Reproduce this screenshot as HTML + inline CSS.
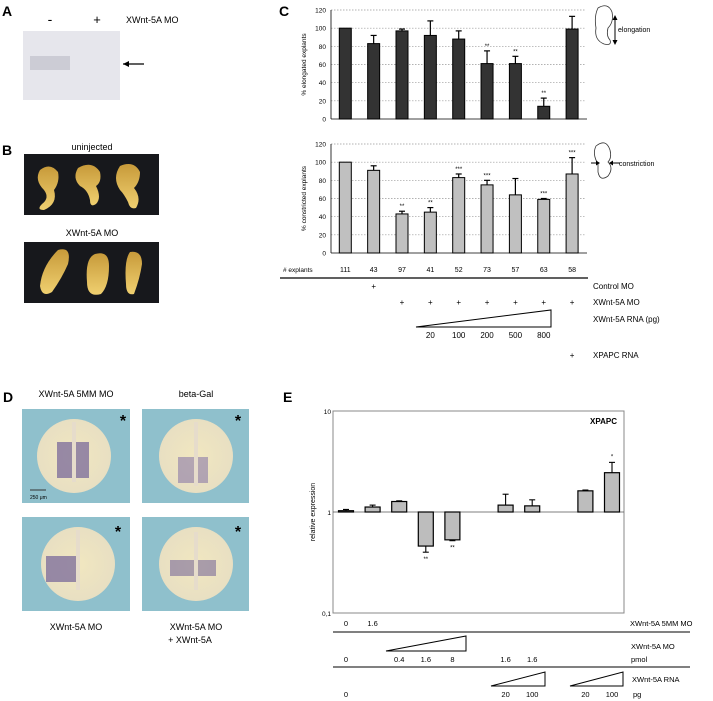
<!DOCTYPE html>
<html><head><meta charset="utf-8"><style>
body{margin:0;background:#fff;width:713px;height:701px;overflow:hidden;font-family:"Liberation Sans",Arial,sans-serif}
svg{display:block}
</style></head><body>
<svg width="713" height="701" viewBox="0 0 713 701">
<defs>
<radialGradient id="emb" cx="50%" cy="50%" r="50%"><stop offset="0" stop-color="#f1e7c0"/><stop offset="1" stop-color="#e8dfc2"/></radialGradient>
<linearGradient id="yolk" x1="0" y1="0" x2="0" y2="1"><stop offset="0" stop-color="#c79a3a"/><stop offset="1" stop-color="#f0d070"/></linearGradient>
</defs>
<g font-size="14" font-weight="bold">
<text x="2" y="16">A</text><text x="2" y="155">B</text><text x="279" y="16">C</text><text x="3" y="402">D</text><text x="283" y="402">E</text>
</g>
<!-- Panel A -->
<g>
<text x="50" y="24" font-size="14" text-anchor="middle">-</text>
<text x="97" y="24" font-size="13" text-anchor="middle">+</text>
<text x="126" y="23" font-size="9">XWnt-5A MO</text>
<rect x="23" y="31" width="97" height="69" fill="#e6e6ec"/>
<rect x="30" y="56" width="40" height="14" fill="#c6c6d0" opacity="0.8"/>
<line x1="144" y1="64" x2="123" y2="64" stroke="#000" stroke-width="1.3"/>
<path d="M123 64 l6 -3 l0 6z" fill="#000"/>
</g>
<!-- Panel B -->
<g>
<text x="92" y="150" font-size="9" text-anchor="middle">uninjected</text>
<rect x="24" y="154" width="135" height="61" fill="#17181c"/>
<path d="M40 170 q10 -8 18 2 q2 10 -4 18 q4 14 -10 20 q-8 0 -2 -6 q8 -6 2 -14 q-10 -10 -4 -20z" fill="url(#yolk)"/>
<path d="M78 168 q14 -8 22 4 q2 10 -4 14 q6 12 0 18 q-6 4 -6 -4 q-2 -10 -10 -14 q-8 -8 -2 -18z" fill="url(#yolk)"/>
<path d="M120 166 q14 -6 20 6 q0 10 -6 16 q8 10 2 20 q-6 2 -8 -6 q-4 -8 -8 -12 q-8 -12 0 -24z" fill="url(#yolk)"/>
<text x="92" y="236" font-size="9" text-anchor="middle">XWnt-5A MO</text>
<rect x="24" y="242" width="135" height="61" fill="#17181c"/>
<path d="M58 250 q14 -4 10 14 q-6 14 -16 28 q-10 6 -12 -6 q2 -20 18 -36z" fill="url(#yolk)"/>
<path d="M95 254 q14 -4 14 12 q0 20 -8 28 q-14 4 -14 -12 q-2 -24 8 -28z" fill="url(#yolk)"/>
<path d="M130 252 q12 -2 12 12 q-2 14 -8 30 q-8 2 -8 -10 q-2 -24 4 -32z" fill="url(#yolk)"/>
</g>
<!-- Panel D -->
<g font-size="9">
<text x="76" y="397" text-anchor="middle">XWnt-5A 5MM MO</text>
<text x="196" y="397" text-anchor="middle">beta-Gal</text>
<g>
<rect x="22" y="409" width="108" height="94" fill="#8fc0cc"/><circle cx="74" cy="456" r="37" fill="url(#emb)"/><rect x="57" y="442" width="32" height="36" fill="#7a6a9a" opacity="0.75"/><rect x="72" y="422" width="4" height="60" fill="#e6dccb"/><text x="123" y="426" font-size="16" font-weight="bold" text-anchor="middle">*</text><line x1="30" y1="490" x2="46" y2="490" stroke="#333"/><text x="30" y="499" font-size="5">250 μm</text></g>
<g>
<rect x="142" y="409" width="107" height="94" fill="#8fc0cc"/><circle cx="196" cy="456" r="37" fill="url(#emb)"/><rect x="178" y="457" width="30" height="26" fill="#8a7aa8" opacity="0.6"/><rect x="194" y="422" width="4" height="64" fill="#e6dccb"/><text x="238" y="426" font-size="16" font-weight="bold" text-anchor="middle">*</text></g>
<g>
<rect x="22" y="517" width="108" height="94" fill="#8fc0cc"/><circle cx="78" cy="564" r="37" fill="url(#emb)"/><rect x="46" y="556" width="32" height="26" fill="#7a6a9a" opacity="0.75"/><rect x="76" y="530" width="4" height="60" fill="#e6dccb"/><text x="118" y="537" font-size="16" font-weight="bold" text-anchor="middle">*</text></g>
<g>
<rect x="142" y="517" width="107" height="94" fill="#8fc0cc"/><circle cx="196" cy="564" r="37" fill="url(#emb)"/><rect x="170" y="560" width="46" height="16" fill="#7a6a9a" opacity="0.6"/><rect x="194" y="532" width="4" height="58" fill="#e6dccb"/><text x="238" y="537" font-size="16" font-weight="bold" text-anchor="middle">*</text></g>
<text x="76" y="630" text-anchor="middle">XWnt-5A MO</text>
<text x="196" y="630" text-anchor="middle">XWnt-5A MO</text>
<text x="190" y="643" text-anchor="middle">+ XWnt-5A</text>
</g>
<g id="chartC"></g>
<g id="chartE"></g>
</svg>
<script>
const cCounts=["111","43","97","41","52","73","57","63","58"];
const elongVals=[100,83,97,92,88,61,61,14,99];
const elongErr=[0,9,2,16,9,14,8,9,14];
const elongSig=["","","","","","**","**","**",""];
const constrVals=[100,91,43,45,83,75,64,59,87];
const constrErr=[0,5,3,5,4,5,18,1,18];
const constrSig=["","","**","**","***","***","","***","***"];
const cTicks=[0,20,40,60,80,100,120];
const rnaDoses=["20","100","200","500","800"];

const eVals=[1.03,1.12,1.27,0.46,0.53,1.17,1.15,1.62,2.45];
const eErr=[0.03,0.05,0.02,0.06,0.01,0.33,0.17,0.03,0.65];
const eSig=["","","","**","**","","","","*"];
const eSlots=[0,1,2,3,4,6,7,9,10];
const eTicks=["0,1","1","10"];

const NS="http://www.w3.org/2000/svg";
function mk(parent,tag,attrs,text){const e=document.createElementNS(NS,tag);for(const k in attrs)e.setAttribute(k,attrs[k]);if(text!==undefined)e.textContent=text;parent.appendChild(e);return e;}

// Panel C
const gC=document.getElementById('chartC');
const cx=i=>345.3+i*28.35;
function barChart(y0,y120,vals,errs,sig,fill,title,nm){
  const ys=v=>y0-(v/120)*(y0-y120);
  const g=mk(gC,'g',{});
  
  
  cTicks.forEach(t=>{
    if(t>0){const gl=mk(g,'line',{x1:331,x2:585,y1:ys(t),y2:ys(t),stroke:'#999','stroke-dasharray':'1.5,1.5','stroke-width':0.7});}
    const tl=mk(g,'text',{x:326,y:ys(t)+2.5,'font-size':6.5,'text-anchor':'end'},t);
    
  });
  mk(g,'line',{x1:331,x2:331,y1:y120,y2:y0,stroke:'#000','stroke-width':0.8});
  mk(g,'line',{x1:331,x2:587,y1:y0,y2:y0,stroke:'#000','stroke-width':0.8});
  const yt=mk(g,'text',{x:0,y:0,'font-size':6.5,'text-anchor':'middle',transform:`translate(306,${(y0+y120)/2}) rotate(-90)`},title);
  
  vals.forEach((v,i)=>{
    const x=cx(i);
    if(errs[i]>0){const el=mk(g,'line',{x1:x,x2:x,y1:ys(v),y2:ys(v+errs[i]),stroke:'#000','stroke-width':1.2});
      mk(g,'line',{x1:x-3,x2:x+3,y1:ys(v+errs[i]),y2:ys(v+errs[i]),stroke:'#000','stroke-width':1.2});}
    const b=mk(g,'rect',{x:x-6,y:ys(v),width:12,height:y0-ys(v),fill:fill,stroke:'#000','stroke-width':1});
    
    if(sig[i]){const s=mk(g,'text',{x:x,y:ys(v+errs[i])-3,'font-size':6,'text-anchor':'middle'},sig[i]);}
  });
}
barChart(119,10,elongVals,elongErr,elongSig,'#333','% elongated explants','elongation-chart');
barChart(253,144,constrVals,constrErr,constrSig,'#c0c0c0','% constricted explants','constriction-chart');
// icons
mk(gC,'path',{d:'M598 8 q10 -6 14 4 q2 10 -4 16 q-2 8 2 12 q2 6 -6 4 q-10 -4 -8 -16 q-2 -12 2 -20z',fill:'none',stroke:'#333','stroke-width':0.8});
mk(gC,'line',{x1:615,x2:615,y1:18,y2:42,stroke:'#000','stroke-width':1});
mk(gC,'path',{d:'M615 15 l-2.5 5 h5z M615 45 l-2.5 -5 h5z',fill:'#000'});
const t1=mk(gC,'text',{x:618,y:32,'font-size':7},'elongation');
mk(gC,'path',{d:'M596 146 q10 -8 14 4 q2 8 -2 12 q6 6 0 14 q-8 6 -10 -4 q0 -6 0 -8 q-6 -10 -2 -18z',fill:'none',stroke:'#333','stroke-width':0.8});
mk(gC,'path',{d:'M591 163 h6 M613 163 h7',stroke:'#000','stroke-width':1});
mk(gC,'path',{d:'M600 163 l-4 -2.5 v5z M609 163 l4 -2.5 v5z',fill:'#000'});
const t2=mk(gC,'text',{x:619,y:166,'font-size':7},'constriction');
// table
mk(gC,'text',{x:283,y:272,'font-size':6.5},'# explants');
cCounts.forEach((c,i)=>{const t=mk(gC,'text',{x:cx(i),y:272,'font-size':7,'text-anchor':'middle'},c);});
mk(gC,'line',{x1:280,x2:588,y1:278,y2:278,stroke:'#000','stroke-width':1.2});
mk(gC,'text',{x:593,y:289,'font-size':8},'Control MO');
mk(gC,'text',{x:cx(1),y:289,'font-size':8,'text-anchor':'middle'},'+');
mk(gC,'text',{x:593,y:305,'font-size':8},'XWnt-5A MO');
for(let i=2;i<9;i++)mk(gC,'text',{x:cx(i),y:305,'font-size':8,'text-anchor':'middle'},'+');
mk(gC,'text',{x:593,y:322,'font-size':8},'XWnt-5A RNA (pg)');
mk(gC,'path',{d:'M416 327 L551 327 L551 310 Z',fill:'none',stroke:'#000','stroke-width':1});
rnaDoses.forEach((d,i)=>mk(gC,'text',{x:cx(i+3),y:338,'font-size':8,'text-anchor':'middle'},d));
mk(gC,'text',{x:593,y:358,'font-size':8},'XPAPC RNA');
mk(gC,'text',{x:cx(8),y:358,'font-size':8,'text-anchor':'middle'},'+');

// Panel E
const gE=document.getElementById('chartE');
const ey=v=>512-Math.log10(v)*101;
const ex=s=>346+s*26.6;
mk(gE,'rect',{x:333,y:411,width:291,height:202,fill:'none',stroke:'#888','stroke-width':1});
eTicks.forEach((t,i)=>{const tl=mk(gE,'text',{x:331,y:613-i*101+3,'font-size':6.5,'text-anchor':'end'},t);});
mk(gE,'line',{x1:333,x2:624,y1:ey(1),y2:ey(1),stroke:'#555','stroke-width':0.8});
const et=mk(gE,'text',{x:0,y:0,'font-size':7,'text-anchor':'middle',transform:'translate(315,512) rotate(-90)'},'relative expression');

mk(gE,'text',{x:617,y:424,'font-size':8,'font-weight':'bold','text-anchor':'end'},'XPAPC');
eVals.forEach((v,i)=>{
  const x=ex(eSlots[i]);const up=v>=1;
  const tip=up?v+eErr[i]:v-eErr[i];
  mk(gE,'line',{x1:x,x2:x,y1:ey(v),y2:ey(tip),stroke:'#000','stroke-width':1.1});
  mk(gE,'line',{x1:x-3,x2:x+3,y1:ey(tip),y2:ey(tip),stroke:'#000','stroke-width':1.1});
  const y1=Math.min(ey(v),ey(1)),h=Math.abs(ey(v)-ey(1));
  const b=mk(gE,'rect',{x:x-7.5,y:y1,width:15,height:h,fill:'#bdbdbd',stroke:'#000','stroke-width':1.2});
  
  if(eSig[i]){const s=mk(gE,'text',{x:x,y:up?ey(tip)-4:ey(tip)+9,'font-size':6,'text-anchor':'middle'},eSig[i]);}
});
const fs={'font-size':7.5};
mk(gE,'text',{x:ex(0),y:626,'font-size':7.5,'text-anchor':'middle'},'0');
mk(gE,'text',{x:ex(1),y:626,'font-size':7.5,'text-anchor':'middle'},'1.6');
mk(gE,'text',{x:630,y:626,'font-size':7.5},'XWnt-5A 5MM MO');
mk(gE,'line',{x1:333,x2:690,y1:632,y2:632,stroke:'#000','stroke-width':1});
mk(gE,'path',{d:'M386 651 L466 651 L466 636 Z',fill:'none',stroke:'#000','stroke-width':1});
mk(gE,'text',{x:631,y:649,'font-size':7.5},'XWnt-5A MO');
mk(gE,'text',{x:631,y:662,'font-size':7.5},'pmol');
[["0",0],["0.4",2],["1.6",3],["8",4],["1.6",6],["1.6",7]].forEach(a=>mk(gE,'text',{x:ex(a[1]),y:662,'font-size':7.5,'text-anchor':'middle'},a[0]));
mk(gE,'line',{x1:333,x2:690,y1:667,y2:667,stroke:'#000','stroke-width':1});
mk(gE,'path',{d:'M491 686 L545 686 L545 672 Z M570 686 L623 686 L623 672 Z',fill:'none',stroke:'#000','stroke-width':1});
mk(gE,'text',{x:632,y:682,'font-size':7.5},'XWnt-5A RNA');
[["0",0],["20",6],["100",7],["20",9],["100",10]].forEach(a=>mk(gE,'text',{x:ex(a[1]),y:697,'font-size':7.5,'text-anchor':'middle'},a[0]));
mk(gE,'text',{x:633,y:697,'font-size':7.5},'pg');
</script>
</body></html>
